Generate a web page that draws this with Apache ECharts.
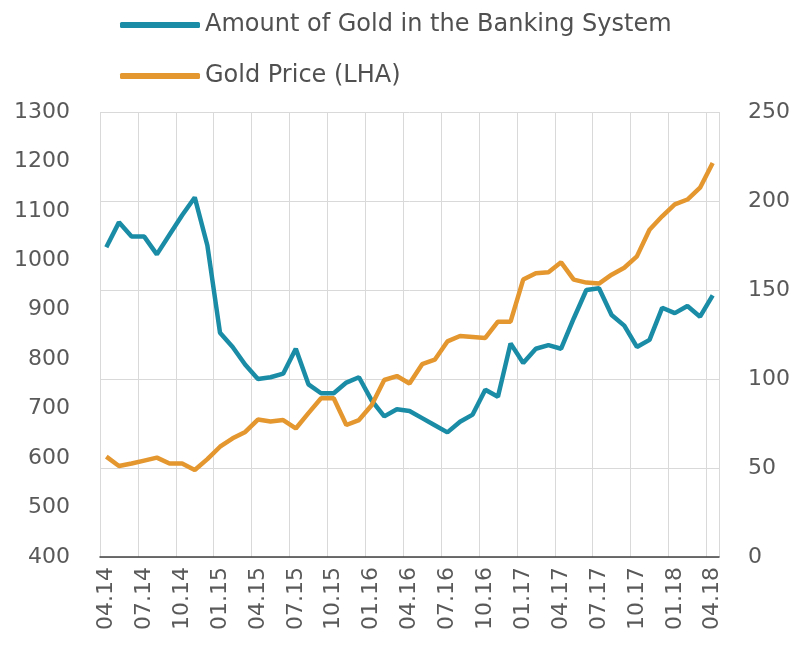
<!DOCTYPE html>
<html lang="en">
<head>
    <meta charset="UTF-8">
    <title>Gold in the Banking System vs Gold Price</title>
    <script src="https://cdn.jsdelivr.net/npm/echarts@6/dist/echarts.min.js"></script>
    <style>
        body { margin: 0; background: #fff; }
        #chart { width: 796px; height: 646px; }
    </style>
</head>
<body>
<div id="chart"></div>
<script type="text/javascript">

    let months = [
        '04.14', '05.14', '06.14', '07.14', '08.14', '09.14', '10.14', '11.14', '12.14',
        '01.15', '02.15', '03.15', '04.15', '05.15', '06.15', '07.15', '08.15', '09.15', '10.15', '11.15', '12.15',
        '01.16', '02.16', '03.16', '04.16', '05.16', '06.16', '07.16', '08.16', '09.16', '10.16', '11.16', '12.16',
        '01.17', '02.17', '03.17', '04.17', '05.17', '06.17', '07.17', '08.17', '09.17', '10.17', '11.17', '12.17',
        '01.18', '02.18', '03.18', '04.18'
    ];

    // right hand axis
    let goldInBanks = [
        174, 188, 180, 180, 170, 181, 192, 202, 175, 126, 118, 108,
        100, 101, 103, 117, 97, 92, 92, 98, 101, 88, 79, 83,
        82, 78, 74, 70, 76, 80, 94, 90, 120, 109, 117, 119,
        117, 134, 150, 151, 136, 130, 118, 122, 140, 137, 141, 135,
        147
    ];

    // left hand axis
    let goldPrice = [
        603, 584, 589, 595, 601, 589, 589, 576, 598, 623, 640, 653,
        678, 674, 677, 660, 691, 721, 721, 667, 677, 707, 758, 766,
        751, 790, 799, 836, 847, 845, 843, 876, 876, 961, 974, 976,
        996, 961, 955, 953, 971, 985, 1008, 1062, 1089, 1113, 1123, 1147,
        1197
    ];

    let blue = '#1a8ca6';
    let orange = '#e4962f';
    let font = 'DejaVu Sans';

    let myChart = echarts.init(document.getElementById('chart'));

    let option = {
        animation: false,
        legend: {
            orient: 'vertical',
            left: 115,
            top: 8,
            itemWidth: 80,
            itemHeight: 6,
            itemGap: 27,
            icon: 'roundRect',
            textStyle: {
                fontFamily: font,
                fontSize: 24,
                color: '#505050'
            },
            data: ['Amount of Gold in the Banking System', 'Gold Price (LHA)']
        },
        grid: {
            left: 100,
            right: 77,
            top: 112,
            bottom: 89
        },
        xAxis: {
            type: 'category',
            boundaryGap: true,
            data: months,
            axisLine: { lineStyle: { color: '#404040', width: 1.5 } },
            axisTick: { interval: 2, length: 7, lineStyle: { color: '#404040', width: 1.5 } },
            axisLabel: {
                interval: 2,
                rotate: 90,
                margin: 10,
                fontFamily: font,
                fontSize: 22,
                color: '#595959'
            },
            splitLine: { show: true, interval: 2, lineStyle: { color: '#d9d9d9' } }
        },
        yAxis: [
            {
                type: 'value',
                min: 400,
                max: 1300,
                interval: 100,
                axisLine: { show: false },
                axisTick: { show: false },
                splitLine: { show: false },
                axisLabel: {
                    margin: 30,
                    fontFamily: font,
                    fontSize: 22,
                    color: '#595959',
                    formatter: function (v) { return String(v); }
                }
            },
            {
                type: 'value',
                min: 0,
                max: 250,
                interval: 50,
                axisLine: { show: false },
                axisTick: { show: false },
                splitLine: { show: true, lineStyle: { color: '#d9d9d9' } },
                axisLabel: {
                    margin: 29,
                    fontFamily: font,
                    fontSize: 22,
                    color: '#595959'
                }
            }
        ],
        series: [
            {
                name: 'Amount of Gold in the Banking System',
                type: 'line',
                yAxisIndex: 1,
                data: goldInBanks,
                symbol: 'none',
                color: blue,
                lineStyle: { width: 4.5, color: blue }
            },
            {
                name: 'Gold Price (LHA)',
                type: 'line',
                yAxisIndex: 0,
                data: goldPrice,
                symbol: 'none',
                color: orange,
                lineStyle: { width: 4.5, color: orange }
            }
        ]
    };
    myChart.setOption(option);

</script>
</body>
</html>
